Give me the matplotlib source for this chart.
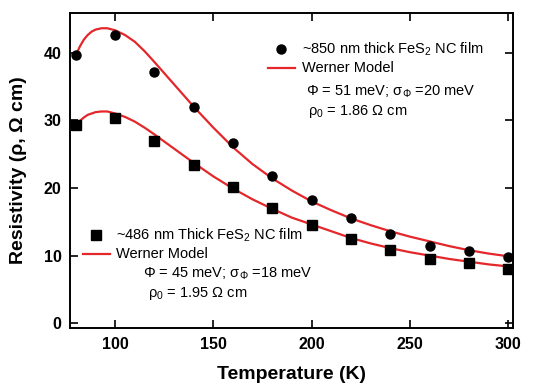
import matplotlib
matplotlib.use("Agg")
import matplotlib.pyplot as plt

plt.rcParams['font.family'] = ['Liberation Sans', 'DejaVu Sans']

# measured resistivity (Ohm cm) vs temperature (K)
temp = [80, 100, 120, 140, 160, 180, 200, 220, 240, 260, 280, 300]
rho_850 = [39.6, 42.6, 37.1, 31.9, 26.6, 21.8, 18.2, 15.5, 13.2, 11.4, 10.7, 9.8]
rho_486 = [29.3, 30.4, 26.9, 23.4, 20.1, 17.0, 14.5, 12.5, 10.8, 9.5, 8.9, 8.0]

# Werner model curves
t_fit = [80, 82, 84, 86, 88, 90, 93, 96, 100, 105, 110, 115, 120, 130, 140, 150,
         160, 170, 180, 190, 200, 210, 220, 230, 240, 250, 260, 270, 280, 290, 300]
fit_850 = [39.6, 40.9, 41.9, 42.6, 43.1, 43.4, 43.6, 43.6, 43.3, 42.6, 41.6, 40.2,
           38.6, 35.3, 32.0, 28.9, 26.0, 23.5, 21.4, 19.6, 18.0, 16.7, 15.5, 14.5,
           13.6, 12.8, 12.1, 11.4, 10.8, 10.3, 9.9]
fit_486 = [29.4, 29.9, 30.4, 30.8, 31.0, 31.2, 31.3, 31.3, 31.0, 30.5, 29.8, 28.9,
           27.9, 25.8, 23.7, 21.7, 19.9, 18.3, 16.9, 15.6, 14.6, 13.6, 12.6, 11.8,
           11.1, 10.5, 10.0, 9.5, 9.1, 8.7, 8.4]

red = '#e3272b'
W, H = 541, 385

fig = plt.figure(figsize=(W / 100, H / 100), dpi=100)
ax = fig.add_axes([70 / W, 1 - 328.3 / H, (513 - 70) / W, (328.3 - 12.7) / H])

ax.plot(t_fit, fit_850, color=red, lw=1.6, zorder=2)
ax.plot(t_fit, fit_486, color=red, lw=1.6, zorder=2)
ax.plot(temp, rho_850, 'o', color='black', ms=6.5, zorder=3)
ax.plot(temp, rho_486, 's', color='black', ms=6.5, zorder=3)

ax.set_xlim(77, 302.5)
ax.set_ylim(-0.75, 45.9)
ax.set_xticks([100, 150, 200, 250, 300])
ax.set_yticks([0, 10, 20, 30, 40])
ax.tick_params(direction='in', length=6, width=1.2, top=True, right=True,
               labelsize=11.5, pad=6)
for lab in ax.get_xticklabels() + ax.get_yticklabels():
    lab.set_fontweight('bold')
for sp in ax.spines.values():
    sp.set_linewidth(1.4)

ax.set_xlabel('Temperature (K)', fontsize=14, fontweight='bold', labelpad=10)
ax.set_ylabel('Resistivity (ρ, Ω cm)', fontsize=14, fontweight='bold', labelpad=12)


def fx(px):
    return px / W


def fy(py):
    return 1 - py / H


tf = fig.transFigure
fs = 10.5

# legend for the thick film
ax.plot([fx(281)], [fy(49)], 'o', color='black', ms=6.5, transform=tf, clip_on=False)
fig.text(fx(302), fy(49), '~850 nm thick FeS$_\\mathregular{2}$ NC film',
         fontsize=fs, va='center')
ax.plot([fx(268), fx(295)], [fy(67.5), fy(67.5)], color=red, lw=1.6,
        transform=tf, clip_on=False)
fig.text(fx(302), fy(67.5), 'Werner Model', fontsize=fs, va='center')
fig.text(fx(306.5), fy(91.5), 'Φ = 51 meV; σ$_\\mathregular{Φ}$ =20 meV',
         fontsize=fs, va='center')
fig.text(fx(308), fy(111), 'ρ$_\\mathregular{0}$ = 1.86 Ω cm',
         fontsize=fs, va='center')

# legend for the thin film
ax.plot([fx(96)], [fy(235)], 's', color='black', ms=6.5, transform=tf, clip_on=False)
fig.text(fx(116.5), fy(235), '~486 nm Thick FeS$_\\mathregular{2}$ NC film',
         fontsize=fs, va='center')
ax.plot([fx(83), fx(110)], [fy(253.5), fy(253.5)], color=red, lw=1.6,
        transform=tf, clip_on=False)
fig.text(fx(116.5), fy(253.5), 'Werner Model', fontsize=fs, va='center')
fig.text(fx(143), fy(273.5), 'Φ = 45 meV; σ$_\\mathregular{Φ}$ =18 meV',
         fontsize=fs, va='center')
fig.text(fx(148), fy(293.5), 'ρ$_\\mathregular{0}$ = 1.95 Ω cm',
         fontsize=fs, va='center')

fig.savefig('out.png', dpi=100)
